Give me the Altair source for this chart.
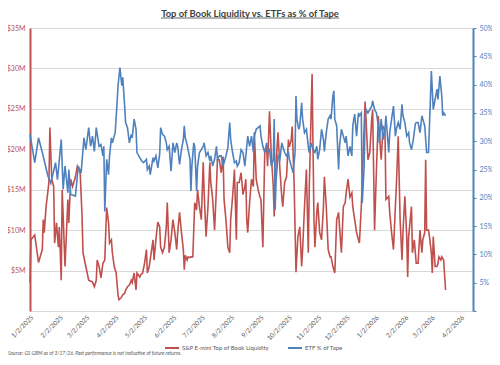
import altair as alt
import pandas as pd

TITLE = "Top of Book Liquidity vs. ETFs as % of Tape"
RED_NAME = "S&P E-mini Top of Book Liquidity"
BLUE_NAME = "ETF % of Tape"
SOURCE = "Source: GS GBM as of 3/17/26. Past performance is not indicative of future returns."

# S&P E-mini top of book liquidity, $M
red_dates = [
    "2025-01-02", "2025-01-03", "2025-01-07", "2025-01-11", "2025-01-15", "2025-01-16", "2025-01-17", "2025-01-19",
    "2025-01-22", "2025-01-23", "2025-01-25", "2025-01-27", "2025-01-28", "2025-01-30", "2025-02-01", "2025-02-02",
    "2025-02-04", "2025-02-05", "2025-02-08", "2025-02-11", "2025-02-12", "2025-02-14", "2025-02-16", "2025-02-19",
    "2025-02-21", "2025-02-24", "2025-02-26", "2025-02-27", "2025-03-02", "2025-03-05", "2025-03-09", "2025-03-11",
    "2025-03-13", "2025-03-14", "2025-03-16", "2025-03-18", "2025-03-20", "2025-03-22", "2025-03-23", "2025-03-24",
    "2025-03-26", "2025-03-27", "2025-03-29", "2025-03-30", "2025-04-01", "2025-04-03", "2025-04-05", "2025-04-06",
    "2025-04-08", "2025-04-10", "2025-04-12", "2025-04-13", "2025-04-15", "2025-04-17", "2025-04-19", "2025-04-20",
    "2025-04-22", "2025-04-24", "2025-04-25", "2025-04-28", "2025-04-29", "2025-05-01", "2025-05-03", "2025-05-05",
    "2025-05-06", "2025-05-08", "2025-05-10", "2025-05-12", "2025-05-13", "2025-05-15", "2025-05-17", "2025-05-19",
    "2025-05-20", "2025-05-22", "2025-05-24", "2025-05-26", "2025-05-27", "2025-05-29", "2025-05-31", "2025-06-02",
    "2025-06-04", "2025-06-06", "2025-06-07", "2025-06-09", "2025-06-11", "2025-06-13", "2025-06-14", "2025-06-15",
    "2025-06-17", "2025-06-18", "2025-06-20", "2025-06-21", "2025-06-23", "2025-06-25", "2025-06-27", "2025-06-28",
    "2025-06-30", "2025-07-02", "2025-07-04", "2025-07-05", "2025-07-07", "2025-07-09", "2025-07-11", "2025-07-12",
    "2025-07-14", "2025-07-16", "2025-07-18", "2025-07-19", "2025-07-21", "2025-07-23", "2025-07-25", "2025-07-26",
    "2025-07-28", "2025-07-30", "2025-08-01", "2025-08-02", "2025-08-04", "2025-08-06", "2025-08-08", "2025-08-09",
    "2025-08-11", "2025-08-13", "2025-08-15", "2025-08-17", "2025-08-18", "2025-08-19", "2025-08-20", "2025-08-22",
    "2025-08-24", "2025-08-26", "2025-08-27", "2025-08-29", "2025-08-31", "2025-09-02", "2025-09-03", "2025-09-05",
    "2025-09-07", "2025-09-09", "2025-09-10", "2025-09-12", "2025-09-14", "2025-09-16", "2025-09-17", "2025-09-19",
    "2025-09-21", "2025-09-23", "2025-09-25", "2025-09-26", "2025-09-28", "2025-09-30", "2025-10-02", "2025-10-03",
    "2025-10-05", "2025-10-06", "2025-10-08", "2025-10-09", "2025-10-10", "2025-10-12", "2025-10-14", "2025-10-16",
    "2025-10-17", "2025-10-19", "2025-10-21", "2025-10-23", "2025-10-24", "2025-10-26", "2025-10-27", "2025-10-28",
    "2025-10-29", "2025-10-30", "2025-11-01", "2025-11-02", "2025-11-04", "2025-11-06", "2025-11-08", "2025-11-09",
    "2025-11-11", "2025-11-13", "2025-11-15", "2025-11-16", "2025-11-18", "2025-11-19", "2025-11-20", "2025-11-22",
    "2025-11-24", "2025-11-25", "2025-11-27", "2025-11-29", "2025-12-01", "2025-12-02", "2025-12-04", "2025-12-06",
    "2025-12-08", "2025-12-09", "2025-12-11", "2025-12-13", "2025-12-15", "2025-12-16", "2025-12-18", "2025-12-20",
    "2025-12-22", "2025-12-23", "2025-12-25", "2025-12-27", "2025-12-29", "2025-12-30", "2026-01-01", "2026-01-03",
    "2026-01-05", "2026-01-06", "2026-01-08", "2026-01-10", "2026-01-12", "2026-01-13", "2026-01-16", "2026-01-17",
    "2026-01-19", "2026-01-21", "2026-01-23", "2026-01-24", "2026-01-26", "2026-01-28", "2026-01-30", "2026-01-31",
    "2026-02-02", "2026-02-04", "2026-02-05", "2026-02-06", "2026-02-09", "2026-02-10", "2026-02-12", "2026-02-14",
    "2026-02-15", "2026-02-16", "2026-02-18", "2026-02-20", "2026-02-21", "2026-02-23", "2026-02-24", "2026-02-25",
    "2026-02-27", "2026-02-28", "2026-03-02", "2026-03-03", "2026-03-04", "2026-03-06", "2026-03-08", "2026-03-09",
    "2026-03-10", "2026-03-12", "2026-03-13", "2026-03-15", "2026-03-17",
]
red_values_musd = [
    3.5, 8.8, 9.4, 6.0, 7.6, 11.3, 9.7, 12.9,
    15.9, 22.7, 16.3, 15.4, 8.4, 10.9, 7.9, 10.4,
    3.8, 15.0, 5.5, 13.8, 10.9, 16.3, 15.4, 16.6,
    17.9, 17.1, 11.7, 7.2, 5.5, 3.8, 3.6, 3.0,
    3.8, 6.3, 5.5, 4.1, 5.9, 6.3, 9.7, 12.8,
    10.9, 8.4, 8.8, 7.2, 5.5, 4.7, 2.0, 1.4,
    1.6, 2.0, 2.2, 2.6, 3.0, 3.2, 3.8, 3.5,
    4.7, 2.6, 4.7, 4.2, 4.5, 4.7, 5.9, 7.6,
    4.7, 5.5, 7.2, 8.8, 6.3, 8.8, 11.0, 10.4,
    7.9, 7.2, 7.9, 10.4, 13.4, 7.2, 8.8, 11.3,
    9.7, 7.6, 9.7, 12.2, 9.7, 7.6, 5.1, 6.9,
    6.3, 6.7, 6.6, 6.7, 6.7, 13.4, 12.5, 15.0,
    12.9, 11.3, 18.4, 14.6, 9.2, 12.9, 18.4, 15.9,
    13.8, 10.0, 15.4, 18.7, 18.7, 17.1, 19.1, 13.8,
    11.3, 7.9, 7.2, 11.3, 14.1, 17.5, 8.8, 15.9,
    15.9, 17.1, 14.4, 15.4, 16.3, 11.3, 9.7, 13.4,
    16.3, 15.4, 22.1, 16.3, 15.0, 14.1, 13.8, 7.9,
    19.6, 20.3, 17.9, 24.7, 19.1, 15.4, 11.7, 18.4,
    22.1, 17.5, 14.1, 12.9, 15.9, 16.6, 21.2, 20.3,
    21.2, 22.8, 15.9, 10.4, 4.8, 9.2, 10.4, 5.5,
    7.6, 12.9, 17.5, 7.2, 15.0, 24.6, 29.3, 20.3,
    11.3, 7.9, 12.2, 13.4, 9.7, 8.8, 12.9, 16.6,
    12.9, 7.6, 6.7, 6.7, 5.5, 5.1, 4.7, 11.3,
    12.2, 10.4, 7.2, 12.9, 13.4, 14.6, 16.3, 14.1,
    14.6, 12.9, 11.3, 9.7, 8.8, 8.4, 12.9, 19.6,
    25.9, 23.7, 18.7, 19.6, 23.7, 24.9, 10.0, 17.5,
    24.1, 22.1, 18.7, 22.8, 22.5, 13.8, 14.2, 12.2,
    9.7, 7.6, 12.9, 15.4, 21.6, 11.3, 6.3, 9.7,
    14.2, 9.2, 4.2, 9.2, 12.9, 7.2, 8.8, 5.9,
    5.9, 5.9, 10.0, 7.2, 8.8, 9.7, 18.7, 10.0,
    10.0, 9.2, 7.2, 4.7, 9.2, 5.5, 5.5, 5.9,
    6.7, 6.3, 6.7, 6.3, 2.6,
]

# ETF share of tape, %
blue_dates = [
    "2025-01-02", "2025-01-07", "2025-01-11", "2025-01-15", "2025-01-21", "2025-01-24", "2025-01-29", "2025-01-31",
    "2025-02-04", "2025-02-06", "2025-02-08", "2025-02-11", "2025-02-12", "2025-02-14", "2025-02-19", "2025-02-22",
    "2025-02-25", "2025-02-28", "2025-03-02", "2025-03-05", "2025-03-07", "2025-03-09", "2025-03-11", "2025-03-13",
    "2025-03-16", "2025-03-18", "2025-03-20", "2025-03-21", "2025-03-22", "2025-03-24", "2025-03-26", "2025-03-27",
    "2025-03-29", "2025-03-30", "2025-04-02", "2025-04-04", "2025-04-05", "2025-04-07", "2025-04-09", "2025-04-10",
    "2025-04-12", "2025-04-13", "2025-04-15", "2025-04-17", "2025-04-19", "2025-04-20", "2025-04-22", "2025-04-24",
    "2025-04-25", "2025-04-28", "2025-04-30", "2025-05-02", "2025-05-05", "2025-05-06", "2025-05-08", "2025-05-09",
    "2025-05-12", "2025-05-13", "2025-05-15", "2025-05-17", "2025-05-19", "2025-05-20", "2025-05-22", "2025-05-24",
    "2025-05-26", "2025-05-27", "2025-05-29", "2025-05-31", "2025-06-02", "2025-06-04", "2025-06-06", "2025-06-07",
    "2025-06-09", "2025-06-11", "2025-06-13", "2025-06-14", "2025-06-15", "2025-06-17", "2025-06-18", "2025-06-20",
    "2025-06-21", "2025-06-22", "2025-06-24", "2025-06-25", "2025-06-27", "2025-06-28", "2025-06-30", "2025-07-02",
    "2025-07-04", "2025-07-05", "2025-07-07", "2025-07-09", "2025-07-11", "2025-07-12", "2025-07-14", "2025-07-16",
    "2025-07-18", "2025-07-19", "2025-07-21", "2025-07-23", "2025-07-25", "2025-07-26", "2025-07-28", "2025-07-30",
    "2025-08-01", "2025-08-02", "2025-08-04", "2025-08-06", "2025-08-08", "2025-08-09", "2025-08-11", "2025-08-13",
    "2025-08-15", "2025-08-17", "2025-08-19", "2025-08-20", "2025-08-22", "2025-08-24", "2025-08-26", "2025-08-27",
    "2025-08-29", "2025-08-31", "2025-09-02", "2025-09-03", "2025-09-05", "2025-09-07", "2025-09-09", "2025-09-10",
    "2025-09-12", "2025-09-14", "2025-09-16", "2025-09-17", "2025-09-18", "2025-09-19", "2025-09-21", "2025-09-23",
    "2025-09-25", "2025-09-26", "2025-09-28", "2025-09-30", "2025-10-02", "2025-10-03", "2025-10-05", "2025-10-07",
    "2025-10-09", "2025-10-10", "2025-10-11", "2025-10-13", "2025-10-14", "2025-10-16", "2025-10-17", "2025-10-19",
    "2025-10-21", "2025-10-23", "2025-10-24", "2025-10-26", "2025-10-28", "2025-10-30", "2025-11-01", "2025-11-02",
    "2025-11-04", "2025-11-06", "2025-11-08", "2025-11-09", "2025-11-11", "2025-11-13", "2025-11-15", "2025-11-16",
    "2025-11-18", "2025-11-19", "2025-11-20", "2025-11-22", "2025-11-24", "2025-11-25", "2025-11-27", "2025-11-29",
    "2025-12-01", "2025-12-02", "2025-12-04", "2025-12-06", "2025-12-08", "2025-12-09", "2025-12-11", "2025-12-13",
    "2025-12-15", "2025-12-16", "2025-12-18", "2025-12-19", "2025-12-21", "2025-12-22", "2025-12-23", "2025-12-25",
    "2025-12-27", "2025-12-29", "2025-12-30", "2026-01-01", "2026-01-03", "2026-01-05", "2026-01-06", "2026-01-08",
    "2026-01-10", "2026-01-12", "2026-01-13", "2026-01-16", "2026-01-17", "2026-01-19", "2026-01-21", "2026-01-23",
    "2026-01-24", "2026-01-26", "2026-01-28", "2026-01-30", "2026-01-31", "2026-02-02", "2026-02-04", "2026-02-06",
    "2026-02-07", "2026-02-09", "2026-02-11", "2026-02-13", "2026-02-14", "2026-02-16", "2026-02-18", "2026-02-20",
    "2026-02-21", "2026-02-23", "2026-02-25", "2026-02-27", "2026-02-28", "2026-03-01", "2026-03-02", "2026-03-04",
    "2026-03-06", "2026-03-08", "2026-03-09", "2026-03-11", "2026-03-13", "2026-03-14", "2026-03-15", "2026-03-17",
]
etf_share_pct = [
    31.2, 26.2, 30.6, 28.0, 23.8, 22.6, 26.2, 23.2,
    30.3, 21.5, 25.6, 20.9, 25.0, 20.6, 20.3, 25.6,
    24.4, 30.6, 28.5, 32.4, 29.1, 30.9, 28.2, 32.4,
    29.1, 29.4, 27.4, 29.1, 17.6, 26.8, 24.1, 27.4,
    30.6, 29.7, 31.5, 36.8, 39.8, 43.0, 39.8, 41.3,
    36.2, 33.3, 32.4, 29.7, 31.2, 30.6, 33.9, 32.1,
    28.0, 27.1, 26.5, 26.2, 26.8, 25.0, 25.6, 24.1,
    27.1, 26.5, 27.4, 25.3, 27.7, 32.4, 31.2, 30.9,
    29.7, 28.5, 29.1, 24.7, 29.7, 28.0, 29.7, 29.1,
    25.9, 28.5, 30.3, 32.7, 30.6, 29.4, 28.5, 26.8,
    21.2, 25.6, 29.7, 29.1, 21.2, 25.6, 28.0, 28.5,
    29.1, 29.7, 27.4, 28.0, 26.5, 27.4, 25.6, 26.8,
    29.1, 26.8, 27.4, 27.4, 25.6, 26.2, 27.4, 28.8,
    33.3, 30.3, 28.0, 26.2, 26.5, 25.6, 26.2, 28.5,
    28.0, 25.6, 29.1, 30.9, 29.1, 30.9, 28.0, 30.9,
    32.1, 32.4, 32.7, 30.9, 29.1, 28.0, 29.7, 28.0,
    28.5, 25.6, 26.8, 33.9, 17.9, 23.2, 27.4, 26.8,
    29.7, 29.1, 28.0, 27.4, 28.0, 26.8, 25.6, 24.4,
    28.0, 38.0, 33.9, 32.1, 32.7, 36.8, 33.9, 31.5,
    32.1, 29.1, 28.0, 29.7, 28.5, 28.0, 29.1, 26.8,
    28.5, 32.1, 30.3, 28.2, 31.5, 33.9, 34.5, 33.9,
    38.0, 38.9, 33.9, 32.7, 25.0, 29.1, 32.1, 30.9,
    29.7, 30.9, 27.4, 29.1, 27.4, 32.7, 34.8, 30.9,
    35.0, 34.5, 35.0, 19.1, 25.6, 33.9, 35.6, 35.0,
    35.6, 36.2, 37.1, 35.6, 35.0, 32.7, 29.7, 33.9,
    30.3, 32.1, 34.5, 28.0, 31.5, 33.9, 36.2, 30.9,
    32.1, 33.3, 32.1, 36.5, 34.5, 33.3, 30.9, 31.5,
    29.7, 28.5, 30.3, 33.0, 33.3, 33.3, 31.5, 34.5,
    33.9, 32.7, 28.0, 28.0, 32.7, 37.4, 42.4, 35.6,
    37.4, 39.2, 37.4, 41.5, 38.0, 34.5, 35.0, 34.5,
]

tick_dates = [
    "2025-01-02", "2025-02-02", "2025-03-02", "2025-04-02", "2025-05-02", "2025-06-02", "2025-07-02", "2025-08-02",
    "2025-09-02", "2025-10-02", "2025-11-02", "2025-12-02", "2026-01-02", "2026-02-02", "2026-03-02", "2026-04-02",
]
x_start, x_end = "2025-01-02", "2026-04-15"
left_ticks = [0, 5, 10, 15, 20, 25, 30, 35]
right_ticks = [0, 5, 10, 15, 20, 25, 30, 35, 40, 45, 50]

RED = "#C0504D"
BLUE = "#4F81BD"
GRID = "#D9D9D9"
TEXT = "#595959"
FONT = "Lato"


def dt(s):
    y, m, d = (int(p) for p in s.split("-"))
    return alt.DateTime(year=y, month=m, date=d, utc=True)


red_df = pd.DataFrame({"date": red_dates, "value": red_values_musd, "series": RED_NAME})
blue_df = pd.DataFrame({"date": blue_dates, "value": etf_share_pct, "series": BLUE_NAME})

x_enc = alt.X(
    "date:T",
    title=None,
    scale=alt.Scale(type="utc", domain=[dt(x_start), dt(x_end)]),
    axis=alt.Axis(
        values=[dt(s) for s in tick_dates],
        labelExpr="utcFormat(datum.value, '%-m/%-d/%Y')",
        labelAngle=315,
        labelFontSize=6.5,
        labelFont=FONT,
        labelColor=TEXT,
        domain=False,
        ticks=False,
        grid=False,
        labelPadding=3,
        labelOverlap=False,
    ),
)

color_enc = alt.Color(
    "series:N",
    scale=alt.Scale(domain=[RED_NAME, BLUE_NAME], range=[RED, BLUE]),
    legend=alt.Legend(
        orient="none",
        legendX=134,
        legendY=312,
        direction="horizontal",
        title=None,
        symbolType="stroke",
        symbolStrokeWidth=2,
        symbolSize=196,
        labelFontSize=6,
        labelFont=FONT,
        labelColor=TEXT,
        labelOffset=2,
        columnPadding=14,
    ),
)

red_line = alt.Chart(red_df).mark_line(strokeWidth=1.6).encode(
    x=x_enc,
    y=alt.Y(
        "value:Q",
        title=None,
        scale=alt.Scale(domain=[0, 35], nice=False),
        axis=alt.Axis(
            orient="left",
            values=left_ticks,
            labelExpr="datum.value == 0 ? '' : '$' + datum.value + 'M'",
            domainColor=RED,
            domainWidth=2,
            ticks=False,
            labelColor=RED,
            labelFontSize=7,
            labelFont=FONT,
            labelPadding=5,
            grid=True,
            gridColor=GRID,
            gridWidth=1,
        ),
    ),
    color=color_enc,
)

blue_line = alt.Chart(blue_df).mark_line(strokeWidth=1.6).encode(
    x=x_enc,
    y=alt.Y(
        "value:Q",
        title=None,
        scale=alt.Scale(domain=[0, 50], nice=False),
        axis=alt.Axis(
            orient="right",
            values=right_ticks,
            labelExpr="datum.value == 0 ? '' : datum.value + '%'",
            domainColor=BLUE,
            domainWidth=2,
            ticks=True,
            tickColor=BLUE,
            tickSize=3,
            labelColor=BLUE,
            labelFontSize=7,
            labelFont=FONT,
            labelPadding=3,
            grid=False,
        ),
    ),
    color=color_enc,
)

title_text = alt.Chart(pd.DataFrame({"label": [TITLE]})).mark_text(
    font=FONT, fontSize=9.4, fontWeight="bold", color="#404040", align="center", baseline="alphabetic"
).encode(text="label:N", x=alt.value(220), y=alt.value(-11.5))

title_underline = alt.Chart(pd.DataFrame({"label": [TITLE]})).mark_rule(
    color="#404040", strokeWidth=0.8
).encode(x=alt.value(131), x2=alt.value(309), y=alt.value(-10))

source_text = alt.Chart(pd.DataFrame({"label": [SOURCE]})).mark_text(
    font=FONT, fontSize=5, fontStyle="italic", color=TEXT, align="left", baseline="alphabetic"
).encode(text="label:N", x=alt.value(-22), y=alt.value(327))

chart = (
    alt.layer(red_line, blue_line, title_text, title_underline, source_text)
    .resolve_scale(y="independent")
    .properties(
        width=443,
        height=283,
        padding={"left": 22, "top": 20, "right": 19, "bottom": 45},
        autosize=alt.AutoSizeParams(type="none"),
        background="white",
    )
    .configure_view(stroke=None)
)

chart.save("out.html", embed_options={"renderer": "svg", "actions": False})
